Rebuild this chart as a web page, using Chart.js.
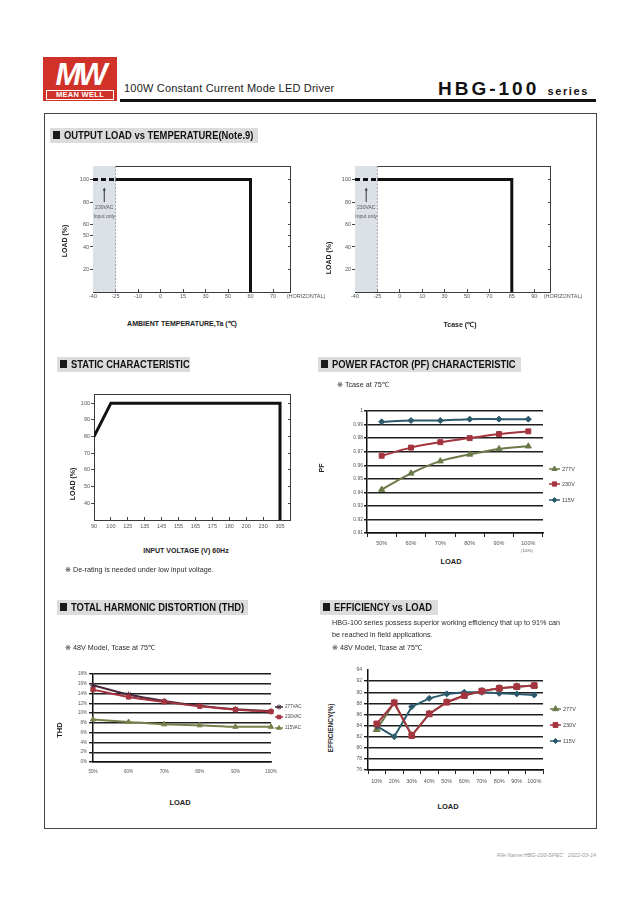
<!DOCTYPE html>
<html lang="en">
<head>
<meta charset="utf-8">
<title>HBG-100 series</title>
<script src="https://cdn.jsdelivr.net/npm/chart.js@4.4.1/dist/chart.umd.min.js"></script>
<style>
  html, body { margin: 0; padding: 0; }
  body { width: 640px; height: 905px; position: relative; background: #fff; overflow: hidden;
         font-family: "Liberation Sans", Arial, Helvetica, sans-serif; color: #222; }
  canvas { position: absolute; }
  .c { position: absolute; white-space: nowrap; line-height: 1; transform: translate(-50%, -50%); }
  .r { position: absolute; white-space: nowrap; line-height: 1; transform: translate(-50%, -50%) rotate(-90deg); font-weight: bold; }
  .l { position: absolute; white-space: nowrap; line-height: 1; transform: translateY(-50%); }
  .ax { font-weight: bold; font-size: 7px; color: #222; }
  .note { font-size: 7.2px; color: #2a2a2a; filter: grayscale(1); }
  .k { font-family: "DejaVu Sans", sans-serif; color: #2a2a2a; }
  .sec { position: absolute; height: 15px; background: #dcdcdc; }
  .sec i { position: absolute; left: 3px; top: 3px; width: 7px; height: 8px; background: #1a1a1a; }
  .sec span { position: absolute; left: 14px; top: 2px; font-size: 10px; font-weight: bold; line-height: 11px;
              color: #111; white-space: nowrap; transform: scaleX(0.94); transform-origin: 0 50%; }
</style>
</head>
<body>

<!-- header -->
<div style="position:absolute;left:43px;top:57px;width:74px;height:44px;background:#d0322a;">
  <div style="position:absolute;left:0;top:2px;width:74px;text-align:center;color:#fff;font:italic bold 31px/31px 'Liberation Sans',Arial,sans-serif;letter-spacing:-3px;">MW</div>
  <div style="position:absolute;left:3px;top:33px;width:66px;height:8px;border:1px solid #fff;color:#fff;font:bold 7.5px/8px 'Liberation Sans',Arial,sans-serif;text-align:center;letter-spacing:0.3px;">MEAN WELL</div>
</div>
<div style="position:absolute;left:124px;top:83px;font-size:11px;line-height:1;letter-spacing:0.2px;color:#222;white-space:nowrap;">100W Constant Current Mode LED Driver</div>
<div style="position:absolute;left:438px;top:79px;font-size:19px;line-height:1;font-weight:bold;letter-spacing:3px;color:#111;white-space:nowrap;">HBG-100 <span style="font-size:11px;letter-spacing:1.6px;">series</span></div>
<div style="position:absolute;left:120px;top:99px;width:476px;height:3px;background:#111;"></div>

<div style="position:absolute;left:44px;top:113px;width:551px;height:714px;border:1px solid #444;"></div>

<!-- section headers -->
<div class="sec" style="left:50px;top:128px;width:208px;"><i></i><span>OUTPUT LOAD vs TEMPERATURE(Note.9)</span></div>
<div class="sec" style="left:57px;top:357px;width:133px;"><i></i><span>STATIC CHARACTERISTIC</span></div>
<div class="sec" style="left:318px;top:357px;width:203px;"><i></i><span>POWER FACTOR (PF) CHARACTERISTIC</span></div>
<div class="sec" style="left:57px;top:600px;width:191px;"><i></i><span>TOTAL HARMONIC DISTORTION (THD)</span></div>
<div class="sec" style="left:320px;top:600px;width:118px;"><i></i><span>EFFICIENCY vs LOAD</span></div>

<!-- charts -->
<canvas id="taChart" width="290" height="150" style="left:55px;top:158px;"></canvas>
<canvas id="tcChart" width="240" height="150" style="left:318px;top:158px;"></canvas>
<canvas id="vinChart" width="240" height="150" style="left:60px;top:386px;"></canvas>
<canvas id="pfChart" width="260" height="150" style="left:330px;top:400px;"></canvas>
<canvas id="thdChart" width="245" height="115" style="left:70px;top:664px;"></canvas>
<canvas id="effChart" width="255" height="130" style="left:335px;top:660px;"></canvas>

<!-- axis titles and notes -->
<div class="r ax" style="left:64px;top:241px;">LOAD (%)</div>
<div class="c ax" style="left:182px;top:323px;">AMBIENT TEMPERATURE,Ta (℃)</div>
<div class="c" style="left:306px;top:297px;font-size:5.5px;color:#555;">(HORIZONTAL)</div>

<div class="r ax" style="left:328px;top:258px;">LOAD (%)</div>
<div class="c ax" style="left:460px;top:324px;">Tcase (℃)</div>
<div class="c" style="left:563px;top:297px;font-size:5.5px;color:#555;">(HORIZONTAL)</div>

<div class="r ax" style="left:72px;top:484px;">LOAD (%)</div>
<div class="c ax" style="left:186px;top:550px;">INPUT VOLTAGE (V) 60Hz</div>
<div class="l note" style="left:65px;top:570px;"><span class="k">※</span> De-rating is needed under low input voltage.</div>

<div class="l note" style="left:337px;top:385px;"><span class="k">※</span> Tcase at 75℃</div>
<div class="r ax" style="left:321px;top:468px;">PF</div>
<div class="c ax" style="left:451px;top:562px;font-size:7.5px;">LOAD</div>
<div class="c" style="left:527px;top:552px;font-size:3.5px;color:#555;">(100%)</div>

<div class="l note" style="left:65px;top:648px;"><span class="k">※</span> 48V Model, Tcase at 75℃</div>
<div class="r ax" style="left:60px;top:730px;font-size:7.5px;">THD</div>
<div class="c ax" style="left:180px;top:803px;font-size:7.5px;">LOAD</div>

<div class="l note" style="left:332px;top:623px;">HBG-100 series possess superior working efficiency that up to 91% can</div>
<div class="l note" style="left:332px;top:635px;">be reached in field applications.</div>
<div class="l note" style="left:332px;top:648px;"><span class="k">※</span> 48V Model, Tcase at 75℃</div>
<div class="r ax" style="left:331px;top:728px;font-size:6.5px;">EFFICIENCY(%)</div>
<div class="c ax" style="left:448px;top:807px;font-size:7.5px;">LOAD</div>

<div style="position:absolute;right:44px;top:852px;font-size:5.5px;font-style:italic;color:#999;white-space:nowrap;">File Name:HBG-100-SPEC&nbsp;&nbsp;&nbsp;2022-03-14</div>

<script>
// output load vs ambient temperature (Ta)
const taLabels = ['-40', '-25', '-10', '0', '15', '30', '50', '60', '70'];
const taTemp = [-40, -25, 60, 60];
const taLoad = [100, 100, 100, 0];
const taLoadTicks = [20, 40, 50, 60, 80, 100];

// output load vs Tcase
const tcLabels = ['-40', '-25', '0', '10', '30', '50', '70', '85', '90'];
const tcTemp = [-40, -25, 85, 85];
const tcLoad = [100, 100, 100, 0];
const tcLoadTicks = [20, 40, 60, 80, 100];

// static characteristic
const vinLabels = ['90', '100', '125', '135', '145', '155', '165', '175', '180', '200', '230', '305'];
const vinVolt = [90, 100, 305, 305];
const vinLoad = [80, 100, 100, 30];
const vinLoadTicks = [40, 50, 60, 70, 80, 90, 100];

// power factor
const pfLoad = ['50%', '60%', '70%', '80%', '90%', '100%'];
const pf277 = [0.942, 0.954, 0.963, 0.968, 0.972, 0.974];
const pf230 = [0.967, 0.973, 0.977, 0.980, 0.983, 0.985];
const pf115 = [0.992, 0.993, 0.993, 0.994, 0.994, 0.994];
const pfTicks = [0.91, 0.92, 0.93, 0.94, 0.95, 0.96, 0.97, 0.98, 0.99, 1];

// THD (%)
const thdLoad = ['50%', '60%', '70%', '80%', '90%', '100%'];
const thd277 = [15.7, 13.8, 12.5, 11.5, 10.8, 10.4];
const thd230 = [14.8, 13.3, 12.3, 11.4, 10.7, 10.3];
const thd115 = [8.7, 8.2, 7.7, 7.5, 7.2, 7.2];
const thdTicks = [0, 2, 4, 6, 8, 10, 12, 14, 16, 18];

// efficiency (%)
const effLoad = ['10%', '20%', '30%', '40%', '50%', '60%', '70%', '80%', '90%', '100%'];
const eff277 = [83.3, 88.1, 82.2, 86.1, 88.2, 89.4, 90.2, 90.7, 91.0, 91.2];
const eff230 = [84.3, 88.1, 82.2, 86.1, 88.2, 89.4, 90.2, 90.7, 91.0, 91.2];
const eff115 = [83.9, 82.0, 87.4, 88.9, 89.7, 90.0, 90.0, 89.8, 89.7, 89.5];
const effTicks = [76, 78, 80, 82, 84, 86, 88, 90, 92, 94];

Chart.defaults.font.family = '"Liberation Sans", Arial, sans-serif';
Chart.defaults.color = '#555';
Chart.defaults.animation = false;

// box round the plot area
const frame = {
  id: 'frame',
  beforeDatasetsDraw(chart, args, opts) {
    if (!opts || !opts.color) return;
    const a = chart.chartArea;
    const ctx = chart.ctx;
    ctx.save();
    ctx.strokeStyle = opts.color;
    ctx.lineWidth = 1;
    ctx.strokeRect(a.left + 0.5, a.top + 0.5, a.right - a.left - 1, a.bottom - a.top);
    ctx.restore();
  }
};

// grey "230VAC input only" band
const inputBand = {
  id: 'inputBand',
  beforeDatasetsDraw(chart, args, o) {
    if (!o || o.to === undefined) return;
    const { ctx, chartArea: a, scales: { x, y } } = chart;
    const x0 = x.getPixelForValue(o.from), x1 = x.getPixelForValue(o.to);
    const cx = (x0 + x1) / 2;
    ctx.save();
    ctx.fillStyle = '#dce1e7';
    ctx.fillRect(x0, a.top, x1 - x0, a.bottom - a.top);
    ctx.strokeStyle = '#8a9098';
    ctx.lineWidth = 0.8;
    ctx.setLineDash([2, 1.5]);
    ctx.beginPath();
    ctx.moveTo(x1, a.top);
    ctx.lineTo(x1, a.bottom);
    ctx.stroke();
    ctx.setLineDash([]);
    const yTop = y.getPixelForValue(o.arrow[1]), yBot = y.getPixelForValue(o.arrow[0]);
    ctx.strokeStyle = '#333';
    ctx.fillStyle = '#333';
    ctx.lineWidth = 1;
    ctx.beginPath();
    ctx.moveTo(cx, yBot);
    ctx.lineTo(cx, yTop + 2);
    ctx.stroke();
    ctx.beginPath();
    ctx.moveTo(cx, yTop);
    ctx.lineTo(cx - 1.5, yTop + 3);
    ctx.lineTo(cx + 1.5, yTop + 3);
    ctx.closePath();
    ctx.fill();
    ctx.fillStyle = '#555';
    ctx.font = '5px "Liberation Sans", Arial, sans-serif';
    ctx.textAlign = 'center';
    ctx.textBaseline = 'middle';
    o.text.forEach((t, i) => ctx.fillText(t, cx, y.getPixelForValue(o.textAt[i])));
    ctx.restore();
  }
};

// legend at the right: short line with marker, then name
const sideLegend = {
  id: 'sideLegend',
  afterDraw(chart, args, o) {
    if (!o || !o.rows) return;
    const ctx = chart.ctx, a = chart.chartArea;
    ctx.save();
    ctx.font = o.size + 'px "Liberation Sans", Arial, sans-serif';
    ctx.textBaseline = 'middle';
    chart.data.datasets.forEach((ds, i) => {
      const y = a.top + o.rows[i];
      const x0 = a.right + o.dx;
      ctx.strokeStyle = ds.borderColor;
      ctx.fillStyle = ds.backgroundColor;
      ctx.lineWidth = 1.5;
      ctx.beginPath();
      ctx.moveTo(x0, y);
      ctx.lineTo(x0 + o.len, y);
      ctx.stroke();
      ctx.lineWidth = 1;
      if (Chart.helpers && Chart.helpers.drawPoint) {
        Chart.helpers.drawPoint(ctx, { pointStyle: ds.pointStyle, radius: ds.pointRadius * 0.85, rotation: 0, borderWidth: 1 }, x0 + o.len / 2, y);
      } else {
        ctx.fillRect(x0 + o.len / 2 - 2, y - 2, 4, 4);
      }
      ctx.fillStyle = '#444';
      ctx.fillText(ds.label, x0 + o.len + 2, y);
    });
    ctx.restore();
  }
};

Chart.register(frame, inputBand, sideLegend);

const setTicks = vals => s => { s.ticks = vals.map(v => ({ value: v })); };

// derating style chart with index based x axis
function frameChart(id, c) {
  const pts = c.xVals.map((v, i) => ({ x: c.labels.indexOf(String(v)), y: c.yVals[i] }));
  const sets = [];
  if (c.band) {
    sets.push({ data: pts.slice(0, 2), borderColor: '#111', borderWidth: 3, borderDash: [5, 3], pointRadius: 0 });
    sets.push({ data: pts.slice(1), borderColor: '#111', borderWidth: 3, pointRadius: 0, borderJoinStyle: 'miter' });
  } else {
    sets.push({ data: pts, borderColor: '#111', borderWidth: 3, pointRadius: 0, borderJoinStyle: 'miter' });
  }
  const tickFont = { size: 5.5 };
  return new Chart(document.getElementById(id), {
    type: 'line',
    data: { datasets: sets },
    options: {
      responsive: false,
      maintainAspectRatio: false,
      layout: { padding: { top: c.pad[0], right: c.pad[1], left: 0, bottom: 0 } },
      plugins: {
        legend: { display: false },
        tooltip: { enabled: false },
        frame: { color: '#3a3a3a' },
        inputBand: c.band ? { from: pts[0].x, to: pts[1].x, arrow: [80, 93], text: ['230VAC', 'Input only'], textAt: [75, 67] } : {}
      },
      scales: {
        x: {
          type: 'linear', min: 0, max: c.xMax,
          afterBuildTicks: setTicks(c.labels.map((l, i) => i)),
          ticks: { callback: v => c.labels[v], font: tickFont, padding: c.xPad, maxRotation: 0, autoSkip: false },
          grid: { drawOnChartArea: false, tickLength: -3, color: '#444' },
          border: { display: false },
          afterFit: s => { s.height = c.xH; }
        },
        y: {
          min: c.yMin, max: c.yMax,
          afterBuildTicks: setTicks(c.yTicks),
          ticks: { font: tickFont, padding: 1 },
          grid: { drawOnChartArea: false, tickLength: 3, color: '#444' },
          border: { display: false },
          afterFit: s => { s.width = c.yW; }
        },
        y2: {
          position: 'right', min: c.yMin, max: c.yMax,
          afterBuildTicks: setTicks(c.yTicks),
          ticks: { display: false },
          grid: { drawOnChartArea: false, tickLength: -3, color: '#444' },
          border: { display: false },
          afterFit: s => { s.width = 0; }
        }
      }
    }
  });
}

frameChart('taChart', { labels: taLabels, xVals: taTemp, yVals: taLoad, yTicks: taLoadTicks, yMin: 0, yMax: 112,
  xMax: 8.8, band: true, pad: [8, 54], yW: 38, xH: 16, xPad: 4.4 });
frameChart('tcChart', { labels: tcLabels, xVals: tcTemp, yVals: tcLoad, yTicks: tcLoadTicks, yMin: 0, yMax: 112,
  xMax: 8.75, band: true, pad: [8, 7], yW: 37, xH: 16, xPad: 4.4 });
frameChart('vinChart', { labels: vinLabels, xVals: vinVolt, yVals: vinLoad, yTicks: vinLoadTicks, yMin: 30, yMax: 105.5,
  xMax: 11.65, band: false, pad: [8, 9], yW: 34, xH: 16, xPad: 6.4 });

function series(label, data, color, style, r, order, tension) {
  return { label, data, borderColor: color, backgroundColor: color, pointStyle: style, pointRadius: r,
    pointBorderWidth: 1, borderWidth: 2, tension, order };
}

// excel style line chart with dark grid lines
function gridChart(id, c) {
  return new Chart(document.getElementById(id), {
    type: 'line',
    data: { labels: c.labels, datasets: c.sets },
    options: {
      responsive: false,
      maintainAspectRatio: false,
      layout: { padding: { top: c.pad[0], right: c.pad[1], left: 0, bottom: 0 } },
      plugins: {
        legend: { display: false },
        tooltip: { enabled: false },
        sideLegend: c.legend
      },
      scales: {
        x: {
          type: 'category', offset: c.offset,
          ticks: { font: { size: c.xFont }, padding: c.xPad, maxRotation: 0, autoSkip: false },
          grid: { offset: c.offset, drawOnChartArea: false, drawTicks: c.offset, tickLength: 4, color: '#222' },
          border: { color: '#111', width: 1.5 },
          afterFit: s => { s.height = c.xH; }
        },
        y: {
          min: c.yMin, max: c.yMax,
          afterBuildTicks: setTicks(c.yTicks),
          ticks: { font: { size: c.yFont }, padding: c.yPad, callback: c.fmt },
          grid: {
            tickLength: c.tl, lineWidth: 1.4,
            color: ctx => (c.noTop && ctx.tick && ctx.tick.value === c.yMax) ? 'rgba(0,0,0,0)' : '#1e1e1e'
          },
          border: { color: '#111', width: 1.5 },
          afterFit: s => { s.width = c.yW; }
        }
      }
    }
  });
}

const OLIVE = '#6b7a48', RED = '#a4343f', TEAL = '#2b5a6c', PLUM = '#46283a', OLIVE2 = '#77814a';

gridChart('pfChart', {
  labels: pfLoad,
  sets: [
    series('277V', pf277, OLIVE, 'triangle', 3.5, 3, 0.35),
    series('230V', pf230, RED, 'rect', 3.5, 2, 0.35),
    series('115V', pf115, TEAL, 'rectRot', 3, 1, 0.2)
  ],
  yMin: 0.91, yMax: 1, yTicks: pfTicks, fmt: v => (v === 1 ? '1' : v.toFixed(2)),
  offset: true, pad: [11, 47], yW: 37, xH: 17, xPad: 2.7, xFont: 5.5, yFont: 5, yPad: 1, tl: 3,
  legend: { dx: 6, len: 11, rows: [58, 73, 89], size: 5.5 }
});

gridChart('thdChart', {
  labels: thdLoad,
  sets: [
    series('277VAC', thd277, PLUM, 'star', 3, 2, 0.3),
    series('230VAC', thd230, RED, 'rect', 3, 1, 0.3),
    series('115VAC', thd115, OLIVE2, 'triangle', 3, 3, 0.2)
  ],
  yMin: 0, yMax: 18, yTicks: thdTicks, fmt: v => v + '%',
  offset: false, pad: [10, 44], yW: 23, xH: 17, xPad: 7.3, xFont: 4.5, yFont: 4.5, yPad: 2, tl: 4,
  legend: { dx: 4, len: 8, rows: [33, 43, 54], size: 4.5 }
});

gridChart('effChart', {
  labels: effLoad,
  sets: [
    series('277V', eff277, OLIVE, 'triangle', 4, 3, 0),
    series('230V', eff230, RED, 'rect', 4, 1, 0),
    series('115V', eff115, TEAL, 'rectRot', 3, 2, 0)
  ],
  yMin: 76, yMax: 94, yTicks: effTicks, fmt: v => v, noTop: true,
  offset: true, pad: [10, 47], yW: 33, xH: 20, xPad: 3.7, xFont: 5.5, yFont: 5, yPad: 2, tl: 4,
  legend: { dx: 7, len: 11, rows: [39, 55, 71], size: 5.5 }
});
</script>
</body>
</html>
